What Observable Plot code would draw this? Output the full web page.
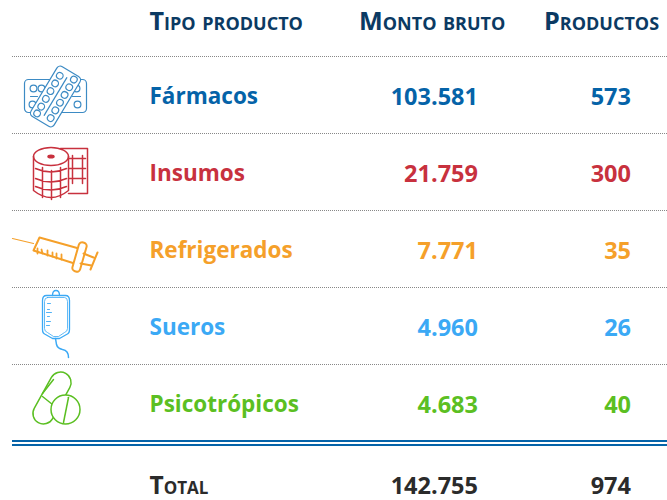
<!DOCTYPE html>
<html><head><meta charset="utf-8">
<style>html,body{margin:0;padding:0;background:#fff}</style>
<script src="https://cdn.jsdelivr.net/npm/d3@7"></script>
<script src="https://cdn.jsdelivr.net/npm/@observablehq/plot@0.6"></script>
</head><body><div id="chart"></div>
<script>
const categories = ["Fármacos","Insumos","Refrigerados","Sueros","Psicotrópicos"];
const montoBruto = [103581,21759,7771,4960,4683];
const productos = [573,300,35,26,40];
const colors = ["#0563a8","#c8313e","#f5a02a","#3ba9f5","#5bbf22"];
const headers = ["Tipo producto","Monto bruto","Productos"];
const totalLabel = "Total";
const totalMonto = 142755, totalProductos = 974;

const f = d3.formatLocale({decimal:",",thousands:".",grouping:[3],currency:["$",""]}).format(",d");
const svgUri = (body,w,h)=>"data:image/svg+xml;utf8,"+encodeURIComponent(`<svg xmlns="http://www.w3.org/2000/svg" viewBox="0 0 ${w} ${h}" width="${w}" height="${h}" fill="none" stroke-linecap="round" stroke-linejoin="round">${body}</svg>`);
function circles(list,r){return list.map(([x,y])=>`<circle cx="${x}" cy="${y}" r="${r}"/>`).join("")}

const icons = [
 svgUri(`<g stroke="#3d8bc4" stroke-width="1.2">
 <rect x="4" y="18" width="62" height="33" rx="4"/>
 ${circles([[13,27],[21,27],[12,43],[57,43],[48,27],[56,27]],3.4)}
 <path d="M10 35 H17 M52 35 H60"/>
 <g transform="translate(35 35) rotate(31)">
 <rect x="-13.5" y="-29" width="27" height="58" rx="4" fill="#fff"/>
 <path d="M0 -22 V22"/>
 ${circles([[-7,-20],[-7,-11],[-7,-2],[-7,7],[-7,16],[-7,24],[7,-24],[7,-15],[7,-6],[7,3],[7,12],[7,21]],3.3)}
 </g></g>`,70,70),
 svgUri(`<g stroke="#c8313e" stroke-width="1.5">
 <path d="M30 5 H57 V50 H38"/>
 <path d="M42 12 V40 M52 12 V40 M38 15 H55 M38 25 H55 M38 35 H55"/>
 <ellipse cx="20.5" cy="13" rx="17.5" ry="9" fill="#fff"/>
 <ellipse cx="20.5" cy="13" rx="3" ry="1.3" fill="#c8313e"/>
 <path d="M3 13 V47 Q20.5 61 38 47 V13"/>
 <path d="M5 25 Q20.5 32 36 25 M5 35 Q20.5 42 36 35 M5 43 Q20.5 50 36 43 M12 24 V54 M21 27 V56 M30 24 V54"/>
 </g>`,60,60),
 svgUri(`<g stroke="#f5a02a" stroke-width="2">
 <path d="M12 21 L33 26" stroke-width="1.2"/>
 <path d="M39 20 L82 32 L74 46 L33 33 Z"/>
 <path d="M37 36 V31 M42 36 L41 32 M47 38 V33 M52 39 V35 M56 41 V36 M61 42 V37" stroke-width="1.8"/>
 <rect x="-4" y="-15" width="8" height="30" rx="3.5" transform="translate(79 39.5) rotate(16)" fill="#fff"/>
 <path d="M83 36 L93 40 M80 46 L91 48 M97 35 L90 52"/>
 </g>`,108,66),
 svgUri(`<g stroke="#3ba9f5" stroke-width="1.3">
 <path d="M17 8 Q17 3 20.5 3 Q24 3 24 8"/>
 <path d="M11 8 H30 Q34 8 34 13 V42 Q34 46 31 47 L24 51 H17 L10 47 Q7 46 7 42 V13 Q7 8 11 8 Z"/>
 <path d="M12 10 H29 Q32 10 32 14 V41 Q32 44 29 45 L23 49 H18 L12 45 Q9 44 9 41 V14 Q9 10 12 10 Z" stroke-width=".8"/>
 <path d="M12 16 H15 M12 22 H14 M11 25 H16 M12 29 H14 M11 34 H15 M11 38 H14" stroke-width=".9"/>
 <path d="M20 51 L21 57 Q22 61 27 62 Q33 63 33 70" stroke-width="1.5"/>
 </g>`,40,80),
 svgUri(`<g stroke="#5bbf22" stroke-width="1.5">
 <rect x="-10.5" y="-28.2" width="21" height="56.4" rx="10.5" transform="translate(31.5 28.5) rotate(29)"/>
 <path d="M22 27 L32 35 M22 24 L33 10"/>
 <circle cx="45" cy="40" r="14.5" fill="#fff"/>
 <path d="M48 28 L43 53"/>
 </g>`,70,70)
];
const iconX = [55,60,54,55,55], iconW=[70,60,108,40,70], iconH=[70,60,66,80,70];
const rows = categories.map((c,i)=>({c,m:montoBruto[i],p:productos[i],col:colors[i],icon:icons[i],ix:iconX[i],iw:iconW[i],ih:iconH[i],i}));

const pos = {name:149,monto:477.5,prod:630.5,h2:358.5,h3:543.5};
const Y = {head:21, first:96, step:77, total:485.5};
const y = i=>Y.first+Y.step*i;
const fam = "'Open Sans',sans-serif";
const nameFont = {fontFamily:fam,fontWeight:700,fontSize:22.5};
const numFont = {fontFamily:fam,fontWeight:700,fontSize:23.5};
const capsFont = {fontFamily:fam,fontWeight:700,fontSize:25.2,fontVariant:"small-caps"};
const totalFont = {...capsFont,fontSize:24.5};
const navy="#0b3a63", ink="#2b2b2b";
const textDy = 0.6;

const rules = [56,133,210,287,364];
const chart = Plot.plot({
 width:667,height:500,margin:0,
 x:{type:"linear",domain:[0,667],range:[0,667],axis:null},
 y:{type:"linear",domain:[0,500],range:[0,500],axis:null},
 marks:[
  Plot.ruleY(rules,{x1:12,x2:667,y:d=>d,stroke:"#888",strokeWidth:1,strokeDasharray:"1 1"}),
  Plot.ruleY([440.5,444.5],{x1:12,x2:667,y:d=>d,stroke:"#0563a8",strokeWidth:2}),
  Plot.image(rows,{x:"ix",y:d=>y(d.i),src:"icon",width:"iw",height:"ih"}),
  Plot.text(rows,{...nameFont,x:()=>pos.name,y:d=>y(d.i)+textDy,text:"c",fill:"col",textAnchor:"start"}),
  Plot.text(rows,{...numFont,x:()=>pos.monto,y:d=>y(d.i)+textDy,text:d=>f(d.m),fill:"col",textAnchor:"end"}),
  Plot.text(rows,{...numFont,x:()=>pos.prod,y:d=>y(d.i)+textDy,text:d=>f(d.p),fill:"col",textAnchor:"end"}),
  Plot.text([headers[0]],{...capsFont,x:()=>pos.name,y:()=>Y.head,text:d=>d,fill:navy,textAnchor:"start"}),
  Plot.text([headers[1]],{...capsFont,x:()=>pos.h2,y:()=>Y.head,text:d=>d,fill:navy,textAnchor:"start"}),
  Plot.text([headers[2]],{...capsFont,x:()=>pos.h3,y:()=>Y.head,text:d=>d,fill:navy,textAnchor:"start"}),
  Plot.text([totalLabel],{...totalFont,x:()=>pos.name,y:()=>Y.total,text:d=>d,fill:ink,textAnchor:"start"}),
  Plot.text([totalMonto],{...numFont,x:()=>pos.monto,y:()=>Y.total,text:d=>f(d),fill:ink,textAnchor:"end"}),
  Plot.text([totalProductos],{...numFont,x:()=>pos.prod,y:()=>Y.total,text:d=>f(d),fill:ink,textAnchor:"end"})
 ]
});
document.getElementById("chart").append(chart);
</script></body></html>
